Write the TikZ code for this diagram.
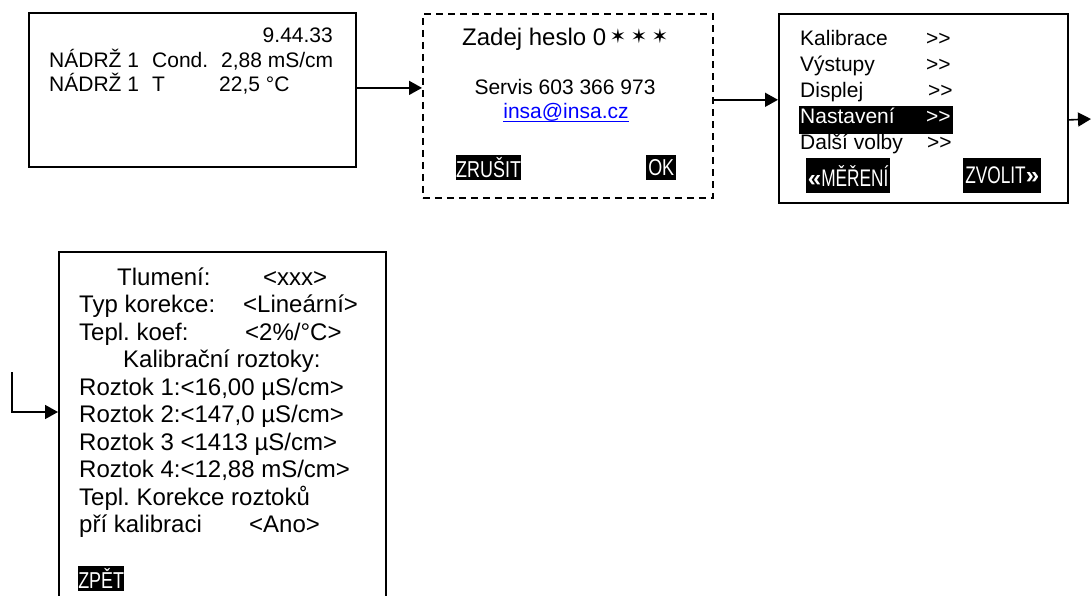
\documentclass[tikz,border=0pt]{standalone}
\usepackage{fontspec}
\setmainfont{Liberation Sans}
\newfontfamily\symfont{DejaVu Sans}
\usepackage{graphicx}
\usetikzlibrary{arrows.meta}
\frenchspacing

% narrow lettering used on the soft keys
\newcommand\keytext[1]{\scalebox{0.78}[1]{#1}}
% submenu marker, kept from turning into a guillemet ligature
\newcommand\submenu{>{}>}

\tikzset{
  screen/.style={draw, line width=1.8pt, inner sep=0pt, anchor=north west},
  dashscreen/.style={screen, line width=1.6pt, dash pattern=on 7pt off 5pt},
  arr/.style={line width=1.6pt, -{Triangle[length=13pt,width=14pt]}},
  txt/.style={inner sep=0pt, anchor=base west, font=\fontsize{21}{25}\selectfont},
  bigtxt/.style={txt, font=\fontsize{24}{28}\selectfont},
  star/.style={inner sep=0pt, font=\symfont\fontsize{20}{24}\selectfont},
  softkey/.style={fill=black, text=white, inner sep=0pt, anchor=north west,
    font=\fontsize{23}{27}\selectfont},
}

\begin{document}
\begin{tikzpicture}[x=1pt,y=-1pt]
\useasboundingbox (0,0) rectangle (1091,596);
\clip (0,0) rectangle (1091,596);

% ---- screens ----
\node[screen, minimum width=327pt, minimum height=154pt] (b1) at (28,12) {};
\node[dashscreen, minimum width=290pt, minimum height=184pt] (b2) at (422,13) {};
\node[screen, minimum width=289pt, minimum height=189pt] (b3) at (778,13) {};
\node[screen, minimum width=327pt, minimum height=380pt] (b4) at (58,251) {};

% ---- measurement screen ----
\node[txt, anchor=base east] (t0) at (333,43) {9.44.33};
\node[txt] (t1a) at (49,68) {NÁDRŽ 1};
\node[txt] (t1b) at (152,68) {Cond.};
\node[txt] (t1c) at (221,68) {2,88 mS/cm};
\node[txt] (t2a) at (49,92) {NÁDRŽ 1};
\node[txt] (t2b) at (152,92) {T};
\node[txt] (t2c) at (219,92) {22,5 °C};

% ---- password screen ----
\node[bigtxt] (pw) at (462,46) {Zadej heslo 0};
\node[star] (st1) at (618,36) {✶};
\node[star] (st2) at (639,36) {✶};
\node[star] (st3) at (660,36) {✶};
\node[txt, anchor=base] (srv) at (565,95) {Servis 603 366 973};
\node[txt, anchor=base, text=blue] (mail) at (566,119) {insa@insa.cz};
\draw[blue, line width=1pt] ([yshift=-3pt]mail.base west) -- ([yshift=-3pt]mail.base east);
\node[softkey, minimum width=63pt, minimum height=25pt] (cancel) at (456,155) {\keytext{ZRUŠIT}};
\node[softkey, minimum width=30pt, minimum height=25pt] (ok) at (646,155) {\keytext{OK}};

% ---- menu screen ----
\node[fill=black, inner sep=0pt, anchor=north west, minimum width=154pt, minimum height=28pt] (hl) at (799,106) {};
\node[txt] (m1) at (800,46) {Kalibrace};
\node[txt] (m2) at (800,72) {Výstupy};
\node[txt] (m3) at (800,98) {Displej};
\node[txt, text=white] (m4) at (800,124) {Nastavení};
\node[txt] (m5) at (800,150) {Další volby};
\node[txt] (g1) at (926,46) {\submenu};
\node[txt] (g2) at (926,72) {\submenu};
\node[txt] (g3) at (928,98) {\submenu};
\node[txt, text=white] (g4) at (926,124) {\submenu};
\node[txt] (g5) at (927,150) {\submenu};
\node[softkey, minimum width=84pt, minimum height=35pt, font=\fontsize{24}{28}\selectfont] (back) at (806,158)
  {{\bfseries «}\scalebox{0.72}[1]{MĚŘENÍ}};
\node[softkey, minimum width=78pt, minimum height=35pt, font=\fontsize{24}{28}\selectfont] (sel) at (963,158)
  {\scalebox{0.72}[1]{ZVOLIT}{\bfseries »}};

% ---- settings screen ----
\node[bigtxt] (s0a) at (117,285) {Tlumení:};
\node[bigtxt] (s0b) at (263,285) {<xxx>};
\node[bigtxt] (s1a) at (79,312.5) {Typ korekce:};
\node[bigtxt] (s1b) at (243,312.5) {<Lineární>};
\node[bigtxt] (s2a) at (79,340) {Tepl. koef:};
\node[bigtxt] (s2b) at (245,340) {<2\%/°C>};
\node[bigtxt] (s3) at (123,367.5) {Kalibrační roztoky:};
\node[bigtxt] (s4) at (79,395) {Roztok 1:<16,00 µS/cm>};
\node[bigtxt] (s5) at (79,422.5) {Roztok 2:<147,0 µS/cm>};
\node[bigtxt] (s6) at (79,450) {Roztok 3 <1413 µS/cm>};
\node[bigtxt] (s7) at (79,477.5) {Roztok 4:<12,88 mS/cm>};
\node[bigtxt] (s8) at (79,505) {Tepl. Korekce roztoků};
\node[bigtxt] (s9a) at (79,532.5) {pří kalibraci};
\node[bigtxt] (s9b) at (249,532.5) {<Ano>};
\node[softkey, minimum width=46pt, minimum height=25pt] (zpet) at (78,566) {\keytext{ZPĚT}};

% ---- connectors ----
\coordinate (out) at (1091,119);
\coordinate (in) at (12,372);
\coordinate (inbend) at (12,412);
\draw[arr] ([yshift=2pt]b1.east) coordinate (p1) -- (p1 -| b2.west);
\draw[arr] ([yshift=6pt]b2.east) coordinate (p2) -- (p2 -| b3.west);
\draw[arr] ([yshift=-11.5pt]b3.east) -- (out);
\draw[arr] (in) -- (inbend) -- (inbend -| b4.west);
\end{tikzpicture}
\end{document}
